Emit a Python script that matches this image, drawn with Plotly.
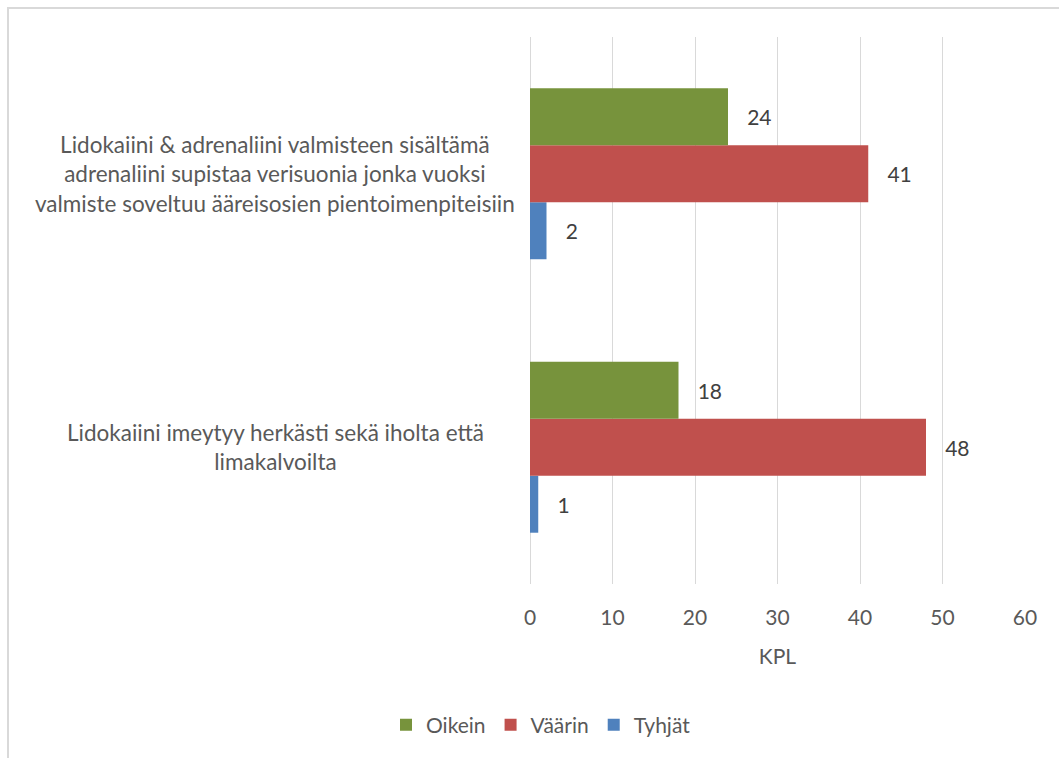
import plotly.graph_objects as go

# Statements (top to bottom as displayed)
statements = [
    "Lidokaiini & adrenaliini valmisteen sisältämä adrenaliini supistaa verisuonia jonka vuoksi valmiste soveltuu ääreisosien pientoimenpiteisiin",
    "Lidokaiini imeytyy herkästi sekä iholta että limakalvoilta",
]
statement_labels = [
    "Lidokaiini & adrenaliini valmisteen sisältämä<br>adrenaliini supistaa verisuonia jonka vuoksi<br>valmiste soveltuu ääreisosien pientoimenpiteisiin",
    "Lidokaiini imeytyy herkästi sekä iholta että<br>limakalvoilta",
]

oikein = [24, 18]
vaarin = [41, 48]
tyhjat = [2, 1]

x_ticks = [0, 10, 20, 30, 40, 50, 60]

FONT = "Lato"
TEXT_GREY = "#595959"
LABEL_GREY = "#404040"
GRID = "#D9D9D9"

series = [
    ("Tyhjät", tyhjat, "#4F81BD"),
    ("Väärin", vaarin, "#C0504D"),
    ("Oikein", oikein, "#77933C"),
]

fig = go.Figure()
for name, vals, color in series:
    fig.add_trace(go.Bar(
        name=name,
        y=statements,
        x=vals,
        orientation="h",
        marker=dict(color=color, line=dict(width=0)),
        text=["\u00a0\u00a0\u00a0" + str(v) for v in vals],
        textposition="outside",
        cliponaxis=False,
        textfont=dict(family=FONT, size=21, color=LABEL_GREY),
        hoverinfo="x+name",
    ))

# Centered, wrapped category labels
for s, lab in zip(statements, statement_labels):
    fig.add_annotation(
        x=-0.515, xref="paper", y=s, yref="y",
        text=lab, showarrow=False, align="center",
        xanchor="center", yanchor="middle",
        font=dict(family=FONT, size=22.5, color=TEXT_GREY),
    )

# Chart frame
fig.add_shape(
    type="rect", xref="paper", yref="paper",
    x0=(8 - 530) / 495, x1=1.2, y0=-0.6, y1=(584 - 8) / 547,
    line=dict(color=GRID, width=2), fillcolor="rgba(0,0,0,0)", layer="below",
)

fig.update_layout(
    width=1059, height=758,
    margin=dict(l=530, r=34, t=37, b=174),
    paper_bgcolor="white", plot_bgcolor="white",
    barmode="group", bargap=0.375, bargroupgap=0,
    showlegend=True,
    legend=dict(
        orientation="h", traceorder="reversed",
        x=(541 - 530) / 495, xref="paper",
        xanchor="center", y=-(725 - 584) / 547, yanchor="middle",
        font=dict(family=FONT, size=21, color=TEXT_GREY),
    ),
    font=dict(family=FONT, color=TEXT_GREY),
)
fig.update_xaxes(
    range=[0, 60], tickvals=x_ticks, showgrid=True, gridcolor=GRID, gridwidth=1,
    zeroline=True, zerolinecolor=GRID, zerolinewidth=1,
    showline=False, ticks="", ticklabelstandoff=19,
    tickfont=dict(family=FONT, size=21, color=TEXT_GREY),
    title=dict(text="KPL", standoff=21, font=dict(family=FONT, size=21, color=TEXT_GREY)),
)
fig.update_yaxes(
    categoryorder="array", categoryarray=statements[::-1],
    showticklabels=False, showgrid=False, zeroline=False, showline=False,
)

fig.write_html("out.html")
